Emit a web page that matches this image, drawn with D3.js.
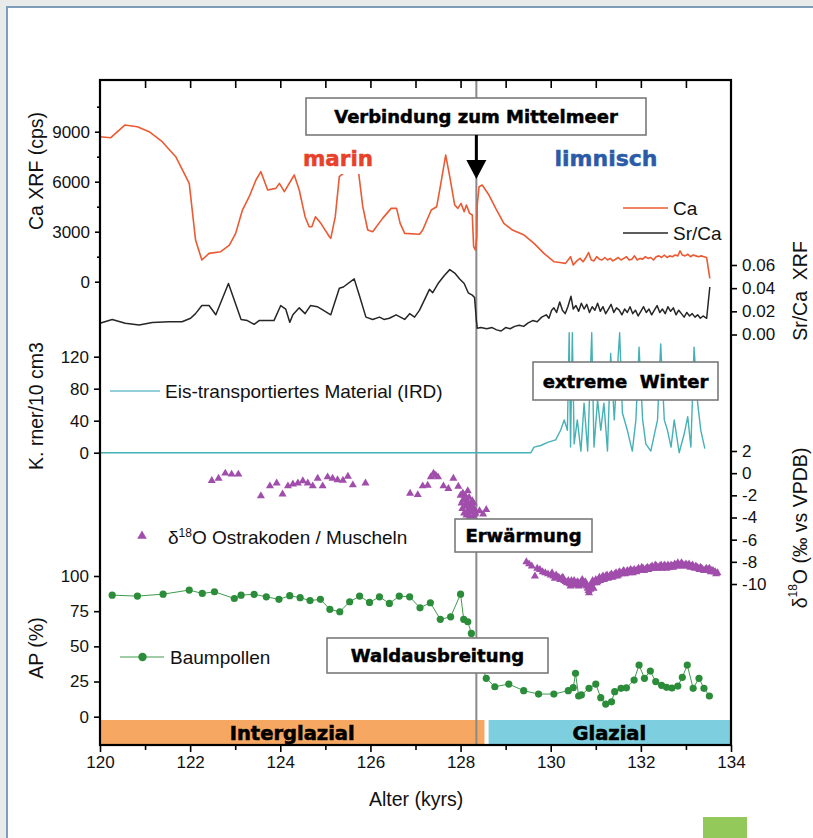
<!DOCTYPE html>
<html><head><meta charset="utf-8">
<script src="https://cdn.jsdelivr.net/npm/d3@7"></script>
<style>body{margin:0;background:#e9ebea}svg{display:block}</style>
</head><body>
<svg id="chart" width="813" height="838"></svg>
<script>
// ---------- DATA ----------
const caAge = [120.0,120.24,120.55,120.83,121.09,121.38,121.68,121.98,122.12,122.26,122.42,122.68,122.87,123.01,123.16,123.31,123.46,123.57,123.72,123.9,123.98,124.09,124.31,124.42,124.55,124.64,124.7,124.78,124.9,125.09,125.12,125.22,125.31,125.4,125.55,125.68,125.74,125.83,125.94,126.05,126.27,126.46,126.58,126.66,126.76,127.09,127.16,127.35,127.47,127.55,127.67,127.76,127.87,127.94,128.01,128.08,128.13,128.2,128.26,128.29,128.33,128.36,128.37,128.41,128.48,128.63,128.78,128.96,129.15,129.41,129.63,129.85,130.07,130.2,130.33,130.44,130.5,130.58,130.65,130.72,130.78,130.84,130.9,130.96,131.02,131.08,131.14,131.2,131.26,131.32,131.38,131.44,131.5,131.56,131.62,131.68,131.74,131.8,131.86,131.92,131.98,132.04,132.1,132.16,132.22,132.28,132.34,132.4,132.46,132.52,132.58,132.64,132.7,132.76,132.82,132.87,132.92,132.98,133.04,133.1,133.16,133.22,133.28,133.34,133.4,133.46,133.53];
const caVal = [8700,8640,9400,9300,9000,8400,7500,5900,2500,1300,1700,1800,2200,2900,4300,5100,6100,6600,5500,5600,5900,5400,6400,5500,3900,3300,3300,3900,3500,2700,2600,3900,6300,6500,7300,7000,6500,4500,3100,3000,3800,4400,4400,3500,2900,2850,3100,4300,4500,5700,7600,6300,4600,4400,4700,4200,4600,4100,4000,2100,1900,2700,4600,5700,5800,5200,4400,3500,3100,2800,2300,1700,1200,1150,1100,1500,1000,1250,1400,1200,1450,1750,1300,1250,1500,1350,1300,1450,1300,1400,1250,1350,1450,1300,1400,1500,1300,1350,1550,1300,1400,1350,1500,1400,1450,1300,1500,1550,1450,1600,1450,1550,1500,1600,1550,1850,1600,1550,1650,1500,1600,1550,1500,1550,1500,1450,200];

const srAge = [120.0,120.27,120.56,120.87,121.16,121.53,121.82,122.01,122.12,122.26,122.42,122.57,122.85,123.13,123.27,123.42,123.53,123.86,124.01,124.12,124.21,124.28,124.42,124.55,124.67,124.82,124.95,125.12,125.31,125.4,125.64,125.76,125.9,126.05,126.2,126.3,126.42,126.57,126.76,126.87,126.98,127.09,127.31,127.38,127.5,127.64,127.76,127.87,127.98,128.08,128.17,128.26,128.31,128.35,128.37,128.45,128.58,128.7,128.8,128.9,129.0,129.1,129.2,129.3,129.4,129.5,129.6,129.7,129.8,129.9,129.96,130.02,130.07,130.13,130.2,130.26,130.32,130.38,130.45,130.5,130.56,130.62,130.68,130.74,130.8,130.86,130.92,130.98,131.04,131.1,131.16,131.22,131.28,131.34,131.4,131.46,131.52,131.58,131.64,131.7,131.76,131.82,131.88,131.94,132.0,132.06,132.12,132.18,132.24,132.3,132.36,132.42,132.48,132.54,132.6,132.66,132.72,132.78,132.84,132.9,132.96,133.02,133.08,133.14,133.2,133.26,133.32,133.38,133.46,133.53];
const srVal = [.0097,.013,.0097,.0082,.0103,.011,.011,.014,.018,.025,.025,.017,.044,.013,.012,.0088,.012,.012,.025,.022,.0105,.017,.023,.018,.025,.024,.021,.017,.040,.041,.048,.033,.015,.013,.015,.013,.014,.017,.013,.018,.015,.021,.039,.036,.044,.051,.056,.053,.048,.044,.036,.034,.032,.0125,.0054,.006,.005,.006,.004,.003,.006,.005,.007,.008,.007,.010,.012,.011,.015,.017,.014,.021,.023,.019,.028,.021,.018,.024,.033,.022,.025,.020,.027,.022,.026,.019,.024,.021,.027,.020,.024,.018,.022,.026,.019,.023,.021,.017,.022,.019,.024,.018,.021,.016,.020,.024,.019,.022,.017,.021,.025,.019,.022,.018,.024,.020,.023,.017,.021,.018,.015,.019,.016,.018,.015,.017,.014,.016,.014,.041];

const irdAge = [120.0,129.56,129.63,129.78,129.93,130.11,130.22,130.3,130.37,130.41,130.44,130.48,130.52,130.59,130.67,130.74,130.82,130.91,130.96,131.04,131.11,131.18,131.26,131.33,131.41,131.44,131.53,131.59,131.7,131.81,131.89,131.96,132.04,132.11,132.22,132.37,132.44,132.52,132.59,132.67,132.74,132.85,132.96,133.04,133.11,133.18,133.26,133.33,133.42];
const irdVal = [0,0,7,9,13,16,28,41,28,150,7,150,11,41,2,62,2,150,7,66,28,62,2,124,41,70,150,50,28,2,41,132,41,11,2,41,136,41,28,7,41,0,23,45,7,132,62,28,5];

const d18Age = [122.48,122.63,122.78,122.92,123.07,123.57,123.77,123.92,124.05,124.17,124.28,124.39,124.5,124.61,124.72,124.83,124.94,125.05,125.16,125.27,125.39,125.5,125.61,125.89,126.88,127.05,127.16,127.27,127.34,127.4,127.45,127.5,127.62,127.73,127.84,127.95,128.0,128.02,128.04,128.06,128.08,128.1,128.11,128.13,128.14,128.16,128.17,128.19,128.2,128.22,128.24,128.26,128.28,128.3,128.33,128.42,128.5,128.57,129.46,129.52,129.58,129.65,129.7,129.76,129.82,129.88,129.94,130.0,130.06,130.12,130.18,130.24,130.3,130.36,130.42,130.46,130.5,130.55,130.6,130.65,130.7,130.75,130.8,130.84,130.87,130.9,130.93,130.96,131.0,131.04,131.08,131.12,131.16,131.2,131.25,131.3,131.35,131.4,131.45,131.5,131.55,131.6,131.65,131.7,131.75,131.8,131.85,131.9,131.95,132.0,132.05,132.1,132.15,132.2,132.25,132.3,132.35,132.4,132.45,132.5,132.55,132.6,132.65,132.7,132.75,132.8,132.85,132.9,132.95,133.0,133.05,133.1,133.15,133.2,133.25,133.3,133.35,133.4,133.45,133.5,133.55,133.6,133.65,133.7,
  128.05,128.12,128.18,128.21,128.25,128.29,128.31,
  130.03,130.09,130.15,130.21,130.27,130.33,130.39,130.44,130.48,130.52,130.57,130.62,130.67,130.72,130.77,130.82,130.85,130.88,130.91,130.95,130.98,131.02,131.06,131.1,131.14,131.18,131.22,131.27,131.32,131.37,131.42,131.47,131.52,131.57,131.62,131.67,131.72,131.77,131.82,131.87,131.92,131.97,132.02,132.07,132.12,132.17,132.22,132.27,132.32,132.37,132.42,132.47,132.52,132.57,132.62,132.67,132.72,132.77,132.82,132.87,132.92,132.97,133.02,133.07,133.12,133.17,133.22,133.27,133.32,133.37,133.42,133.47,133.52,133.57,133.62,133.67];
const d18Val = [-0.68,-0.47,-0.01,-0.1,-0.1,-2.06,-1.16,-0.9,-1.9,-1.16,-1.0,-0.9,-0.7,-0.9,-1.16,-0.47,-1.16,-0.35,-0.47,-0.6,-0.65,-0.3,-1.07,-0.9,-1.82,-1.95,-1.16,-1.1,-0.35,-0.01,-0.2,-0.35,-1.16,-1.4,-0.47,-1.2,-2.0,-2.7,-3.2,-2.4,-3.6,-2.0,-3.0,-3.8,-2.6,-1.6,-3.3,-2.2,-3.9,-2.9,-3.5,-2.5,-3.9,-3.2,-3.6,-3.4,-3.7,-3.3,-8.0,-8.2,-8.4,-9.3,-8.6,-8.7,-8.9,-9.0,-9.1,-9.2,-9.3,-9.2,-9.4,-9.5,-9.7,-9.9,-10.0,-9.7,-9.9,-10.1,-9.8,-10.0,-9.6,-9.9,-10.2,-10.6,-10.3,-10.0,-9.7,-9.9,-9.6,-9.8,-9.4,-9.6,-9.3,-9.5,-9.2,-9.4,-9.1,-9.3,-9.0,-9.2,-9.0,-8.9,-9.1,-8.8,-9.0,-8.8,-8.7,-8.9,-8.6,-8.8,-8.6,-8.7,-8.5,-8.6,-8.4,-8.6,-8.4,-8.5,-8.3,-8.5,-8.4,-8.3,-8.5,-8.4,-8.2,-8.4,-8.3,-8.1,-8.3,-8.2,-8.4,-8.5,-8.3,-8.6,-8.5,-8.7,-8.6,-8.8,-8.6,-8.7,-8.9,-8.8,-8.9,-9.0,
  -1.8,-2.3,-2.8,-3.4,-3.1,-2.7,-3.7,
  -9.0,-9.5,-9.4,-9.6,-9.4,-9.8,-9.7,-10.2,-10.0,-9.7,-9.9,-10.2,-9.8,-10.1,-9.8,-10.4,-10.8,-10.5,-10.2,-10.4,-9.8,-9.9,-9.6,-9.7,-9.4,-9.6,-9.3,-9.5,-9.2,-9.4,-9.1,-9.3,-8.9,-9.1,-8.8,-9.0,-8.9,-8.7,-9.0,-8.8,-8.7,-8.8,-8.5,-8.8,-8.6,-8.7,-8.5,-8.6,-8.3,-8.6,-8.4,-8.6,-8.3,-8.6,-8.4,-8.3,-8.5,-8.3,-8.1,-8.4,-8.2,-8.4,-8.3,-8.2,-8.4,-8.5,-8.4,-8.6,-8.5,-8.7,-8.8,-8.7,-8.6,-8.8,-8.9,-9.1];

const apAge = [120.27,120.83,121.4,121.98,122.27,122.54,122.98,123.13,123.42,123.69,123.97,124.21,124.44,124.66,124.89,125.1,125.32,125.54,125.76,125.98,126.2,126.42,126.64,126.87,127.1,127.33,127.55,127.78,128.0,128.07,128.16,128.24,128.57,128.76,129.07,129.4,129.73,130.07,130.39,130.5,130.55,130.62,130.68,130.85,131.0,131.11,131.22,131.35,131.42,131.56,131.68,131.85,131.96,132.08,132.21,132.33,132.46,132.57,132.69,132.82,132.92,133.03,133.16,133.29,133.4,133.52];
const apVal = [86.4,85.7,87.1,90,87.6,88.8,84,86.4,87,85.2,83.4,86,84.6,82.5,83.4,76.3,74.6,81.7,85.7,81.2,85.2,80.5,85.7,85.2,77.4,81,69.2,71,87.1,69.2,67.5,59.2,27.3,21.3,23.2,18.5,16.1,16.1,18.5,20.6,30.8,14.7,15.5,20.2,23.2,13.5,9,10.6,17.8,20.2,20.5,26,36.7,27.3,32.4,25,22.3,20.9,20.4,21.8,28,36.7,20.2,27.3,20.2,14.7];

const xTicksMajor = [120,122,124,126,128,130,132,134];
const xTicksMinor = [121,123,125,127,129,131,133];
const caTicks = [0,3000,6000,9000];
const caMinor = [1500,4500,7500,10500];
const irdTicks = [0,40,80,120];
const apTicks = [0,25,50,75,100];
const srTicks = [0,0.02,0.04,0.06];
const d18Ticks = [2,0,-2,-4,-6,-8,-10];
const periods = [{name:"Interglazial", from:120, to:128.53, color:"#f6a862"},{name:"Glazial", from:128.6, to:134, color:"#7dcfe0"}];
const boundaryAge = 128.35;

// ---------- DRAW ----------
const svg = d3.select("#chart");
const SANS = "'Liberation Sans', Arial, sans-serif";
const BOLD = "'DejaVu Sans', sans-serif";

svg.append("rect").attr("width",813).attr("height",838).attr("fill","#e9ebea");
svg.append("rect").attr("x",7).attr("y",7).attr("width",806).attr("height",831).attr("fill","#fff");
svg.append("line").attr("x1",6).attr("x2",813).attr("y1",7).attr("y2",7).attr("stroke","#7d9db8").attr("stroke-width",2);
svg.append("line").attr("x1",7).attr("x2",7).attr("y1",6).attr("y2",838).attr("stroke","#7d9db8").attr("stroke-width",2);

const L = 100, R = 731, T = 80, B = 745;
const x = d3.scaleLinear([120,134],[L,R]);
const yCa = d3.scaleLinear([0,9000],[281.7,131.7]);
const ySr = d3.scaleLinear([0,0.06],[334.5,265]);
const yIrd = d3.scaleLinear([0,120],[452.7,356.7]);
const yO = d3.scaleLinear([-10,2],[584,451]);
const yAp = d3.scaleLinear([0,100],[716.7,576]);

// period bars
svg.selectAll("rect.period").data(periods).join("rect")
  .attr("x",d=>x(d.from)+1).attr("width",d=>x(d.to)-x(d.from)-1)
  .attr("y",720).attr("height",B-720).attr("fill",d=>d.color);
svg.selectAll("text.period").data(periods).join("text")
  .attr("x",d=>(x(d.from)+x(d.to))/2).attr("y",740).attr("text-anchor","middle")
  .attr("font-family",BOLD).attr("font-weight","bold").attr("font-size",19.5)
  .attr("stroke","#000").attr("stroke-width",0.6).text(d=>d.name);

// boundary line
svg.append("line").attr("x1",x(boundaryAge)).attr("x2",x(boundaryAge)).attr("y1",T).attr("y2",B)
  .attr("stroke","#8a8a8a").attr("stroke-width",2);

const line = (ys, ages, vals) => d3.line().x((d,i)=>x(ages[i])).y((d,i)=>ys(vals[i]))(ages);
svg.append("path").attr("d",line(yCa,caAge,caVal)).attr("fill","none").attr("stroke","#eb5a32").attr("stroke-width",1.6).attr("stroke-linejoin","round");
svg.append("path").attr("d",line(ySr,srAge,srVal)).attr("fill","none").attr("stroke","#262626").attr("stroke-width",1.5).attr("stroke-linejoin","round");
svg.append("path").attr("d",line(yIrd,irdAge,irdVal)).attr("fill","none").attr("stroke","#45b1b5").attr("stroke-width",1.4).attr("stroke-linejoin","round");

// d18O triangles
const tri = d3.symbol().type(d3.symbolTriangle).size(28);
svg.selectAll("path.d18").data(d18Age).join("path")
  .attr("transform",(d,i)=>`translate(${x(d)},${yO(d18Val[i])})`).attr("d",tri()).attr("fill","#a04dab");

// AP
svg.append("path").attr("d",line(yAp,apAge,apVal)).attr("fill","none").attr("stroke","#3f9b4c").attr("stroke-width",1);
svg.selectAll("circle.ap").data(apAge).join("circle")
  .attr("cx",d=>x(d)).attr("cy",(d,i)=>yAp(apVal[i])).attr("r",3.6).attr("fill","#2b8c3a");

// frame
svg.append("rect").attr("x",L).attr("y",T).attr("width",R-L).attr("height",B-T).attr("fill","none").attr("stroke","#000").attr("stroke-width",2.2);

function styleAxis(g, size){
  g.select(".domain").remove();
  g.selectAll(".tick line").attr("stroke","#000").attr("stroke-width",1.6);
  g.selectAll(".tick text").attr("font-family",SANS).attr("font-size",size).attr("fill","#111");
}
styleAxis(svg.append("g").attr("transform",`translate(0,${B})`).call(d3.axisBottom(x).tickValues(xTicksMajor).tickFormat(d3.format("d")).tickSize(7).tickPadding(4)),17);
styleAxis(svg.append("g").attr("transform",`translate(0,${B})`).call(d3.axisBottom(x).tickValues(xTicksMinor).tickFormat("").tickSize(5)),17);
styleAxis(svg.append("g").attr("transform",`translate(0,${T})`).call(d3.axisBottom(x).tickValues(xTicksMajor.concat(xTicksMinor).filter(v=>v>120&&v<134)).tickFormat("").tickSize(8)),17);
styleAxis(svg.append("g").attr("transform",`translate(${L},0)`).call(d3.axisLeft(yCa).tickValues(caTicks).tickFormat(d3.format("d")).tickSize(5).tickPadding(5)),17);
styleAxis(svg.append("g").attr("transform",`translate(${L},0)`).call(d3.axisLeft(yCa).tickValues(caMinor).tickFormat("").tickSize(3)),17);
styleAxis(svg.append("g").attr("transform",`translate(${L},0)`).call(d3.axisLeft(yIrd).tickValues(irdTicks).tickFormat(d3.format("d")).tickSize(6).tickPadding(5)),17);
styleAxis(svg.append("g").attr("transform",`translate(${L},0)`).call(d3.axisLeft(yAp).tickValues(apTicks).tickFormat(d3.format("d")).tickSize(6).tickPadding(5)),17);
styleAxis(svg.append("g").attr("transform",`translate(${R},0)`).call(d3.axisRight(ySr).tickValues(srTicks).tickFormat(d3.format(".2f")).tickSize(6).tickPadding(5)),17);
styleAxis(svg.append("g").attr("transform",`translate(${R},0)`).call(d3.axisRight(yO).tickValues(d18Ticks).tickFormat(d=>d3.format("d")(d).replace("−","-")).tickSize(6).tickPadding(5)),17);

function vtitle(xp, yp, txt, rot){
  return svg.append("text").attr("transform",`translate(${xp},${yp}) rotate(${rot})`).attr("text-anchor","middle")
    .attr("dominant-baseline","central").attr("font-family",SANS).attr("font-size",19.5).attr("fill","#111").text(txt);
}
vtitle(36,171,"Ca XRF (cps)",-90);
vtitle(36,406,"K. rner/10 cm3",-90);
vtitle(36,648,"AP (%)",-90);
vtitle(800,291,"Sr/Ca  XRF",-90).style("white-space","pre");
const dt = svg.append("text").attr("transform","translate(800,528) rotate(-90)").attr("text-anchor","middle")
  .attr("dominant-baseline","central").attr("font-family",SANS).attr("font-size",19.5).attr("fill","#111");
dt.append("tspan").text("δ");
dt.append("tspan").attr("font-size",12).attr("dy",-7).text("18");
dt.append("tspan").attr("dy",7).text("O (‰ vs VPDB)");
svg.append("text").attr("x",416).attr("y",806).attr("text-anchor","middle").attr("font-family",SANS).attr("font-size",19.5).attr("fill","#111").text("Alter (kyrs)");

// legends
svg.append("line").attr("x1",623).attr("x2",668).attr("y1",208).attr("y2",208).attr("stroke","#eb5a32").attr("stroke-width",1.6);
svg.append("text").attr("x",673).attr("y",215).attr("font-family",SANS).attr("font-size",19).attr("fill","#111").text("Ca");
svg.append("line").attr("x1",623).attr("x2",668).attr("y1",233).attr("y2",233).attr("stroke","#262626").attr("stroke-width",1.5);
svg.append("text").attr("x",673).attr("y",240).attr("font-family",SANS).attr("font-size",19).attr("fill","#111").text("Sr/Ca");
svg.append("line").attr("x1",110).attr("x2",160).attr("y1",391).attr("y2",391).attr("stroke","#6fbfcf").attr("stroke-width",1.4);
svg.append("text").attr("x",165).attr("y",398).attr("font-family",SANS).attr("font-size",19).attr("fill","#111").text("Eis-transportiertes Material (IRD)");
svg.append("path").attr("transform","translate(142,536)").attr("d",d3.symbol().type(d3.symbolTriangle).size(40)()).attr("fill","#a04dab");
const lt = svg.append("text").attr("x",168).attr("y",544).attr("font-family",SANS).attr("font-size",19).attr("fill","#111");
lt.append("tspan").text("δ");
lt.append("tspan").attr("font-size",12).attr("dy",-7).text("18");
lt.append("tspan").attr("dy",7).text("O Ostrakoden / Muscheln");
svg.append("line").attr("x1",120).attr("x2",164).attr("y1",657).attr("y2",657).attr("stroke","#3f9b4c").attr("stroke-width",1);
svg.append("circle").attr("cx",142.5).attr("cy",657).attr("r",4.2).attr("fill","#2b8c3a");
svg.append("text").attr("x",170).attr("y",664).attr("font-family",SANS).attr("font-size",19).attr("fill","#111").text("Baumpollen");

// labels marin / limnisch
svg.append("rect").attr("x",300).attr("y",146).attr("width",76).attr("height",28).attr("fill","#fff");
svg.append("text").attr("x",338).attr("y",166).attr("text-anchor","middle").attr("font-family",BOLD).attr("font-weight","bold").attr("font-size",21.5).attr("fill","#e8412a").attr("stroke","#e8412a").attr("stroke-width",0.5).text("marin");
svg.append("text").attr("x",606).attr("y",166).attr("text-anchor","middle").attr("font-family",BOLD).attr("font-weight","bold").attr("font-size",22).attr("fill","#2b5ba8").attr("stroke","#2b5ba8").attr("stroke-width",0.5).text("limnisch");

function box(x0,y0,x1,y1,txt){
  svg.append("rect").attr("x",x0).attr("y",y0).attr("width",x1-x0).attr("height",y1-y0).attr("fill","#fff").attr("stroke","#7a7a7a").attr("stroke-width",1.6);
  svg.append("text").attr("x",(x0+x1)/2).attr("y",(y0+y1)/2+6.5).attr("text-anchor","middle").attr("font-family",BOLD).attr("font-weight","bold").attr("font-size",18).attr("fill","#000").attr("stroke","#000").attr("stroke-width",0.5).style("white-space","pre").text(txt);
}
box(306,98,646,135,"Verbindung zum Mittelmeer");
box(533,362,718,400,"extreme  Winter");
box(455,519,592,552,"Erwärmung");
box(327,638,548,673,"Waldausbreitung");

svg.append("line").attr("x1",x(boundaryAge)).attr("x2",x(boundaryAge)).attr("y1",135).attr("y2",162).attr("stroke","#000").attr("stroke-width",3);
svg.append("path").attr("d",`M${x(boundaryAge)-10},160 L${x(boundaryAge)+10},160 L${x(boundaryAge)},179 Z`).attr("fill","#000");

svg.append("rect").attr("x",703).attr("y",817).attr("width",44).attr("height",21).attr("fill","#93c95a");
</script>
</body></html>
